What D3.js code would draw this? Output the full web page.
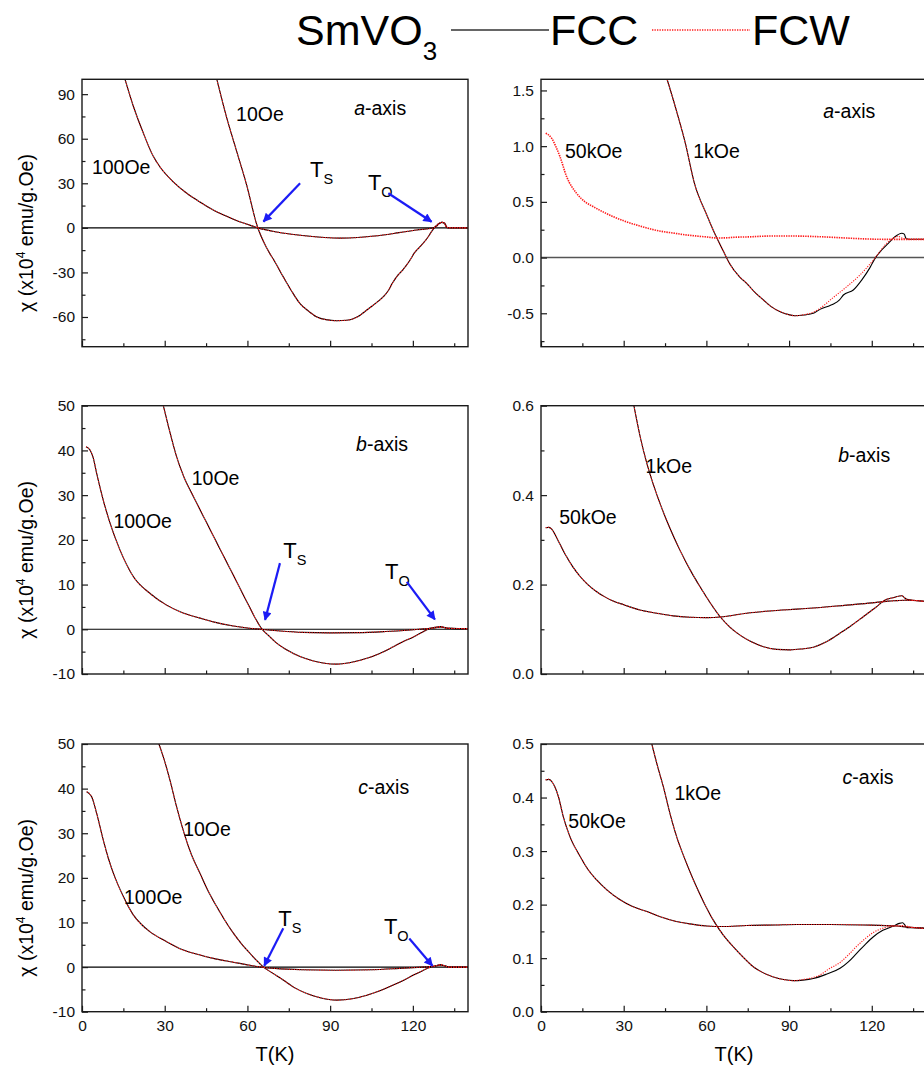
<!DOCTYPE html>
<html>
<head>
<meta charset="utf-8">
<script src="https://cdn.jsdelivr.net/npm/d3@7"></script>
<style>
  body { margin: 0; background: #fff; }
  svg { display: block; }
  text { font-family: "Liberation Sans", Arial, Helvetica, sans-serif; }
</style>
</head>
<body>
<svg id="chart" width="924" height="1074"></svg>
<script>
// SmVO3 single crystal: susceptibility chi(T), field-cooled cooling (FCC) and warming (FCW)
// Temperature in K; low-field panels in 1e-4 emu/g.Oe, high-field panels as plotted.

const tempDomain = [0, 140];
const tempTicks = [0, 30, 60, 90, 120];
const tempMinorTicks = [15, 45, 75, 105, 135];

// a-axis, 10 Oe
const a10 = [[48.9,100],[52.5,74],[56.1,51.5],[59.7,29],[63.4,2.1],[67,-13.6],[70,-23],[73,-33],[76,-42.5],[79,-50.8],[82,-55.8],[85,-59.8],[88.5,-61.8],[92.4,-62.5],[96,-62.2],[100,-59.8],[103.3,-55.3],[106,-51.5],[109.3,-46.3],[111,-42.5],[112.5,-37.5],[114.1,-33],[116.5,-28],[119,-21.6],[120.5,-17],[122.6,-12.7],[125.2,-7],[127.2,-1.4],[128.5,1.5],[129.5,3],[130.5,3.8],[131.5,3.3],[132.3,0.5],[133,0],[140,0]];
// a-axis, 100 Oe
const a100 = [[14,110],[15.6,100],[18.6,82],[22.2,64],[25.9,48],[28.3,41],[33.1,31],[38,23.3],[42.8,17.4],[47.6,12],[52.5,7.8],[56,5],[60,2.4],[63.8,0],[70,-2.6],[76,-4.3],[82.7,-5.7],[88,-6.5],[93.6,-6.9],[100,-6.5],[105,-5.7],[109.3,-4.8],[115,-3.2],[121.4,-1.4],[126.8,-0.3],[128.5,1],[129.7,3],[130.5,3.7],[131.5,2.8],[132.3,0.1],[140,0]];
// a-axis, 1 kOe
const a1kFCC = [[45,1.66],[45.8,1.596],[49.2,1.313],[52.2,1.043],[55.8,0.654],[60.1,0.385],[63.8,0.175],[66.2,0.056],[68.3,-0.049],[72.2,-0.177],[74.6,-0.231],[77.5,-0.31],[80.7,-0.381],[83.5,-0.44],[86.8,-0.486],[89.5,-0.51],[92.2,-0.522],[95.5,-0.515],[98.8,-0.5],[101.2,-0.465],[104.9,-0.43],[106.1,-0.417],[108.3,-0.38],[109.7,-0.336],[113.3,-0.291],[116.4,-0.2],[119.4,-0.088],[121.2,-0.007],[123.6,0.068],[126,0.128],[128.4,0.187],[130.9,0.218],[131.8,0.21],[132.4,0.173],[133.5,0.164],[140,0.164]];
const a1kFCW = [[45,1.66],[45.8,1.596],[49.2,1.313],[52.2,1.043],[55.8,0.654],[60.1,0.385],[63.8,0.175],[66.2,0.056],[68.3,-0.049],[72.2,-0.177],[74.6,-0.231],[77.5,-0.31],[80.7,-0.381],[83.5,-0.44],[86.8,-0.486],[89.5,-0.51],[92.2,-0.522],[95.5,-0.512],[98.8,-0.49],[101.2,-0.456],[106.1,-0.357],[110.9,-0.262],[115.7,-0.157],[120.6,-0.022],[125.4,0.128],[128.2,0.18],[129.5,0.19],[131,0.175],[133,0.165],[140,0.164]];
// a-axis, 50 kOe
const a50kFCW = [[1.7,1.115],[3.9,1.07],[5.5,0.99],[6.9,0.905],[9.3,0.726],[12.9,0.577],[16,0.5],[19,0.456],[22.5,0.41],[26.2,0.367],[30,0.33],[35.9,0.283],[40,0.255],[44.4,0.232],[48,0.22],[52,0.205],[56.5,0.193],[60,0.185],[63.8,0.176],[67,0.177],[70,0.182],[75.8,0.186],[80.7,0.192],[86,0.194],[92.8,0.193],[101.2,0.187],[110.9,0.175],[117,0.168],[123,0.164],[130,0.163],[140,0.163]];

// b-axis, 10 Oe
const b10 = [[29.5,50],[31.5,45],[34.3,38.6],[37,34],[40.4,29.7],[44,25.3],[47.6,20.9],[51,16.8],[54.9,12.1],[58,8.3],[60.9,4.8],[63,2.3],[65.3,0],[67.5,-1.3],[70.6,-3.1],[74.5,-4.7],[79.1,-6.1],[84,-7.1],[88,-7.6],[92.4,-7.8],[97,-7.5],[103.3,-6.5],[108,-5.4],[112.9,-3.9],[116,-2.9],[120.2,-1.7],[123,-0.8],[126.2,0.2],[128.5,0.5],[130,0.6],[131.5,0.4],[133,0.2],[140,0.15]];
// b-axis, 100 Oe
const b100 = [[1.45,40.8],[2.9,40.1],[4,38.5],[5.3,34.9],[7.7,28.9],[10.2,23.7],[13.8,17.7],[18.6,11.8],[24.7,8],[30.7,5.4],[36,3.8],[42.8,2.5],[48,1.6],[54.9,0.75],[60,0.3],[65,0],[72,-0.4],[80,-0.7],[90,-0.8],[100,-0.75],[110,-0.5],[118,-0.2],[124,0.1],[128,0.3],[130,0.5],[132,0.3],[134,0.2],[140,0.15]];
// b-axis, 1 kOe
const b1k = [[33.7,0.6],[36,0.53],[38.4,0.471],[40.8,0.423],[43.2,0.381],[46.7,0.327],[50.4,0.277],[54,0.234],[57.7,0.195],[61.3,0.16],[65,0.128],[68.5,0.105],[72.2,0.087],[76,0.073],[80.7,0.061],[85.5,0.055],[90.4,0.054],[94.5,0.056],[98.8,0.06],[103.5,0.072],[108.4,0.091],[112.5,0.108],[116.9,0.128],[121,0.147],[125.4,0.167],[128,0.171],[130.9,0.175],[132,0.17],[132.7,0.167],[135,0.165],[140,0.162]];
// b-axis, 50 kOe
const b50k = [[1.7,0.327],[2.8,0.328],[3.9,0.324],[5,0.313],[6.9,0.29],[9.3,0.262],[11.5,0.24],[14.2,0.218],[17,0.2],[20.2,0.184],[23,0.173],[26.2,0.163],[30,0.155],[35.9,0.143],[42,0.136],[48,0.13],[54,0.127],[60.1,0.126],[66,0.128],[74.6,0.136],[83,0.141],[92.8,0.145],[100,0.148],[110.9,0.154],[120,0.159],[126,0.163],[129,0.164],[132,0.165],[140,0.162]];

// c-axis, 10 Oe
const c10 = [[27.9,50],[29.8,46.5],[31.9,41.9],[34.2,36.2],[36.7,30.7],[39.5,25.5],[42.8,21],[45.8,17],[48.9,13.5],[51.9,10.4],[54.9,7.6],[58,5.1],[60.9,3.1],[63.3,1.5],[65.8,0],[69,-1.3],[73,-2.9],[77,-4.6],[81.5,-5.9],[86,-6.8],[92.4,-7.4],[98,-7.1],[103.3,-6.3],[108,-5.3],[112.9,-4],[116.5,-3],[120.2,-1.8],[123.5,-0.8],[126.2,-0.06],[128.5,0.3],[130,0.5],[131.5,0.3],[133,0],[140,0]];
// c-axis, 100 Oe
const c100 = [[1.7,39.3],[3.5,38.2],[5.3,34.5],[7.7,28.5],[9.5,24.5],[11.4,21],[15,15.8],[18.6,11.7],[21.5,9.6],[24.7,7.9],[30.7,5.7],[36,4],[42.8,2.7],[48,1.9],[54.9,1.1],[60,0.5],[65,0],[70,-0.3],[80,-0.6],[92,-0.7],[105,-0.6],[115,-0.3],[122,-0.05],[126,0.1],[128.5,0.3],[130,0.5],[131.5,0.3],[133,0],[140,0]];
// c-axis, 1 kOe
const c1kFCC = [[40.2,0.5],[42.2,0.46],[44.4,0.42],[46.8,0.37],[49.2,0.327],[52.2,0.285],[55.3,0.246],[58.9,0.206],[62.5,0.171],[66,0.144],[69.8,0.121],[73.5,0.101],[77,0.084],[80.5,0.073],[84.3,0.065],[88,0.06],[91.5,0.058],[95,0.059],[98.8,0.062],[103.5,0.07],[108.5,0.081],[111.5,0.093],[114.5,0.109],[117.5,0.125],[120.6,0.14],[124,0.152],[127.9,0.16],[130,0.165],[131.2,0.166],[132,0.162],[132.7,0.157],[135,0.157],[140,0.155]];
const c1kFCW = [[40.2,0.5],[42.2,0.46],[44.4,0.42],[46.8,0.37],[49.2,0.327],[52.2,0.285],[55.3,0.246],[58.9,0.206],[62.5,0.171],[66,0.144],[69.8,0.121],[73.5,0.101],[77,0.084],[80.5,0.073],[84.3,0.065],[88,0.06],[91.5,0.058],[95,0.06],[98.8,0.064],[101,0.068],[104.5,0.08],[108.5,0.092],[111.5,0.106],[114.5,0.122],[117.5,0.136],[120.6,0.148],[124,0.156],[127.9,0.16],[131,0.161],[134,0.158],[140,0.155]];
// c-axis, 50 kOe
const c50k = [[1.7,0.433],[2.8,0.434],[3.9,0.43],[5,0.42],[6.3,0.402],[8.1,0.364],[10.5,0.327],[14.2,0.29],[17,0.266],[20.2,0.246],[24,0.227],[28.7,0.209],[33,0.197],[38.4,0.187],[43,0.178],[48,0.17],[54,0.164],[60.1,0.16],[66,0.159],[74.6,0.161],[85,0.162],[92.8,0.163],[105,0.163],[117,0.162],[129,0.16],[133,0.158],[140,0.156]];

// Panel layout: columns and rows of the 3x2 grid
const colRange = [[82, 468], [541, 926.9]];
const rowRange = [[79.3, 346.7], [405.7, 674], [744, 1011.7]];

const panels = [
  { col: 0, row: 0, yDomain: [-80, 100], major: 30, minor: 15, digits: 0, zero: true,
    series: [{ fcc: a10, fcw: a10 }, { fcc: a100, fcw: a100 }],
    fields: [["10Oe", 55.9, 72.1], ["100Oe", 3.6, 36]], axisLabel: ["a", 98.7, 76],
    marks: [{ name: "S", at: [82.7, 34.4], from: [79.1, 30], to: [65.8, 4.2] },
            { name: "O", at: [103.7, 25.5], from: [111.1, 23.3], to: [126.8, 4.1] }] },
  { col: 1, row: 0, yDomain: [-0.8, 1.6], major: 0.5, minor: 0.25, digits: 1, zero: true,
    series: [{ fcc: a1kFCC, fcw: a1kFCW }, { fcc: null, fcw: a50kFCW }],
    fields: [["50kOe", 8.7, 0.891], ["1kOe", 55.2, 0.891]], axisLabel: ["a", 102.4, 1.25], marks: [] },
  { col: 0, row: 1, yDomain: [-10, 50], major: 10, minor: 5, digits: 0, zero: true,
    series: [{ fcc: b10, fcw: b10 }, { fcc: b100, fcw: b100 }],
    fields: [["10Oe", 39.8, 32.3], ["100Oe", 11.4, 22.6]], axisLabel: ["b", 99.4, 39.8],
    marks: [{ name: "S", at: [73, 15.9], from: [71.8, 14.8], to: [66.4, 2.1] },
            { name: "O", at: [109.9, 11.3], from: [117.8, 10.6], to: [128, 2.2] }] },
  { col: 1, row: 1, yDomain: [0, 0.6], major: 0.2, minor: 0.1, digits: 1, zero: false,
    series: [{ fcc: b1k, fcw: b1k }, { fcc: b50k, fcw: b50k }],
    fields: [["1kOe", 37.9, 0.449], ["50kOe", 6.6, 0.335]], axisLabel: ["b", 107.8, 0.475], marks: [] },
  { col: 0, row: 2, yDomain: [-10, 50], major: 10, minor: 5, digits: 0, zero: true,
    series: [{ fcc: c10, fcw: c10 }, { fcc: c100, fcw: c100 }],
    fields: [["10Oe", 36.7, 29.4], ["100Oe", 15.2, 14.2]], axisLabel: ["c", 100.2, 38.9],
    marks: [{ name: "S", at: [71.2, 9.1], from: [73, 8.7], to: [66.1, 0.3] },
            { name: "O", at: [109.5, 7.4], from: [118.7, 6.4], to: [127.1, 0.3] }] },
  { col: 1, row: 2, yDomain: [0, 0.5], major: 0.1, minor: 0.05, digits: 1, zero: false,
    series: [{ fcc: c1kFCC, fcw: c1kFCW }, { fcc: c50k, fcw: c50k }],
    fields: [["1kOe", 48.4, 0.395], ["50kOe", 9.9, 0.344]], axisLabel: ["c", 109.4, 0.426], marks: [] }
];

const svg = d3.select("#chart");
const ink = "#1a1a1a";
const arrowBlue = "#1c1cf5";

const defs = svg.append("defs");
defs.append("marker")
  .attr("id", "arrowhead")
  .attr("viewBox", "0 0 10 10")
  .attr("refX", 9).attr("refY", 5)
  .attr("markerWidth", 12).attr("markerHeight", 9)
  .attr("markerUnits", "userSpaceOnUse")
  .attr("orient", "auto")
  .append("path").attr("d", "M0,0 L10,5 L0,10 Z").attr("fill", arrowBlue);

function tickSet(domain, step) {
  const lo = Math.ceil(domain[0] / step - 1e-9), hi = Math.floor(domain[1] / step + 1e-9);
  return d3.range(lo, hi + 1).map(k => +(k * step).toFixed(6));
}

panels.forEach((p, i) => {
  const [x0, x1] = colRange[p.col];
  const [y0, y1] = rowRange[p.row];
  const x = d3.scaleLinear().domain(tempDomain).range([x0, x1]);
  const y = d3.scaleLinear().domain(p.yDomain).range([y1, y0]);
  const g = svg.append("g");

  defs.append("clipPath").attr("id", "clip" + i)
    .append("rect").attr("x", x0).attr("y", y0).attr("width", x1 - x0).attr("height", y1 - y0);

  const plot = g.append("g").attr("clip-path", `url(#clip${i})`);

  if (p.zero) {
    plot.append("line")
      .attr("x1", x0).attr("x2", x1).attr("y1", y(0)).attr("y2", y(0))
      .attr("stroke", p.col === 1 ? "#555" : "#000").attr("stroke-width", p.col === 1 ? 1.5 : 1.1);
  }

  const line = d3.line().x(d => x(d[0])).y(d => y(d[1])).curve(d3.curveMonotoneX);

  p.series.forEach(s => {
    if (s.fcc) {
      plot.append("path").attr("d", line(s.fcc))
        .attr("fill", "none").attr("stroke", "#000").attr("stroke-width", 1.1);
    }
  });
  p.series.forEach(s => {
    plot.append("path").attr("d", line(s.fcw))
      .attr("fill", "none").attr("stroke", "#ff1a1a")
      .attr("stroke-width", s.fcc ? 1.1 : 1.6)
      .attr("stroke-dasharray", s.fcc ? "1.2,1.3" : "1.4,1");
  });

  // frame
  g.append("rect").attr("x", x0).attr("y", y0).attr("width", x1 - x0).attr("height", y1 - y0)
    .attr("fill", "none").attr("stroke", ink).attr("stroke-width", 1.4);

  // y axis: inward ticks
  const fmt = v => v.toFixed(p.digits);
  const majors = tickSet(p.yDomain, p.major);
  const minors = tickSet(p.yDomain, p.minor).filter(v => !majors.some(m => Math.abs(m - v) < 1e-6));

  g.append("g").attr("transform", `translate(${x0},0)`)
    .call(d3.axisLeft(y).tickValues(majors).tickSize(-6).tickPadding(7).tickFormat(fmt));
  g.append("g").attr("transform", `translate(${x0},0)`)
    .call(d3.axisLeft(y).tickValues(minors).tickSize(-3.5).tickFormat(""));

  g.append("g").attr("transform", `translate(0,${y1})`)
    .call(d3.axisBottom(x).tickValues(tempTicks).tickSize(-6).tickPadding(8)
      .tickFormat(p.row === 2 ? d3.format("d") : ""));
  g.append("g").attr("transform", `translate(0,${y1})`)
    .call(d3.axisBottom(x).tickValues(tempMinorTicks).tickSize(-3.5).tickFormat(""));

  g.selectAll(".domain").remove();
  g.selectAll(".tick line").attr("stroke", ink).attr("stroke-width", 1.2);
  g.selectAll(".tick text").attr("fill", "#111")
    .style("font-family", '"Liberation Sans", Arial, sans-serif').style("font-size", "15.5px");

  // field labels
  p.fields.forEach(([t, tx, ty]) => {
    g.append("text").attr("x", x(tx)).attr("y", y(ty))
      .attr("font-size", 19.5).attr("fill", "#000").text(t);
  });
  const ax = g.append("text").attr("x", x(p.axisLabel[1])).attr("y", y(p.axisLabel[2]))
    .attr("font-size", 19.5).attr("fill", "#000");
  ax.append("tspan").attr("font-style", "italic").text(p.axisLabel[0]);
  ax.append("tspan").text("-axis");

  // transition markers
  p.marks.forEach(m => {
    const tl = g.append("text").attr("x", x(m.at[0])).attr("y", y(m.at[1])).attr("fill", "#000");
    tl.append("tspan").attr("font-size", 22).text("T");
    tl.append("tspan").attr("font-size", 14.5).attr("dy", 7).text(m.name);
    g.append("line")
      .attr("x1", x(m.from[0])).attr("y1", y(m.from[1]))
      .attr("x2", x(m.to[0])).attr("y2", y(m.to[1]))
      .attr("stroke", arrowBlue).attr("stroke-width", 2.2)
      .attr("marker-end", "url(#arrowhead)");
  });
});

// y-axis titles (left column)
rowRange.forEach(([y0, y1]) => {
  const cy = (y0 + y1) / 2 + 20;
  const t = svg.append("text")
    .attr("transform", `translate(33,${cy}) rotate(-90)`)
    .attr("text-anchor", "middle").attr("font-size", 19.5).attr("fill", "#000");
  t.append("tspan").text("\u03C7 (x10");
  t.append("tspan").attr("font-size", 12).attr("dy", -8).text("4");
  t.append("tspan").attr("dy", 8).text(" emu/g.Oe)");
});

// x-axis titles
colRange.forEach(([x0]) => {
  const x = d3.scaleLinear().domain(tempDomain).range([x0, x0 + 386]);
  svg.append("text").attr("x", x(70)).attr("y", 1061)
    .attr("text-anchor", "middle").attr("font-size", 20).attr("fill", "#000").text("T(K)");
});

// title and legend
const title = svg.append("text").attr("x", 296).attr("y", 45).attr("font-size", 43).attr("fill", "#000");
title.append("tspan").text("SmVO");
title.append("tspan").attr("font-size", 26).attr("dy", 15).text("3");

svg.append("line").attr("x1", 451).attr("x2", 549).attr("y1", 30).attr("y2", 30)
  .attr("stroke", "#333").attr("stroke-width", 1.4);
svg.append("text").attr("x", 550).attr("y", 45).attr("font-size", 43).attr("fill", "#000").text("FCC");
svg.append("line").attr("x1", 652).attr("x2", 750).attr("y1", 30).attr("y2", 30)
  .attr("stroke", "#ff1a1a").attr("stroke-width", 1.3).attr("stroke-dasharray", "1.3,1.2");
svg.append("text").attr("x", 752).attr("y", 45).attr("font-size", 43).attr("fill", "#000").text("FCW");
</script>
</body>
</html>
